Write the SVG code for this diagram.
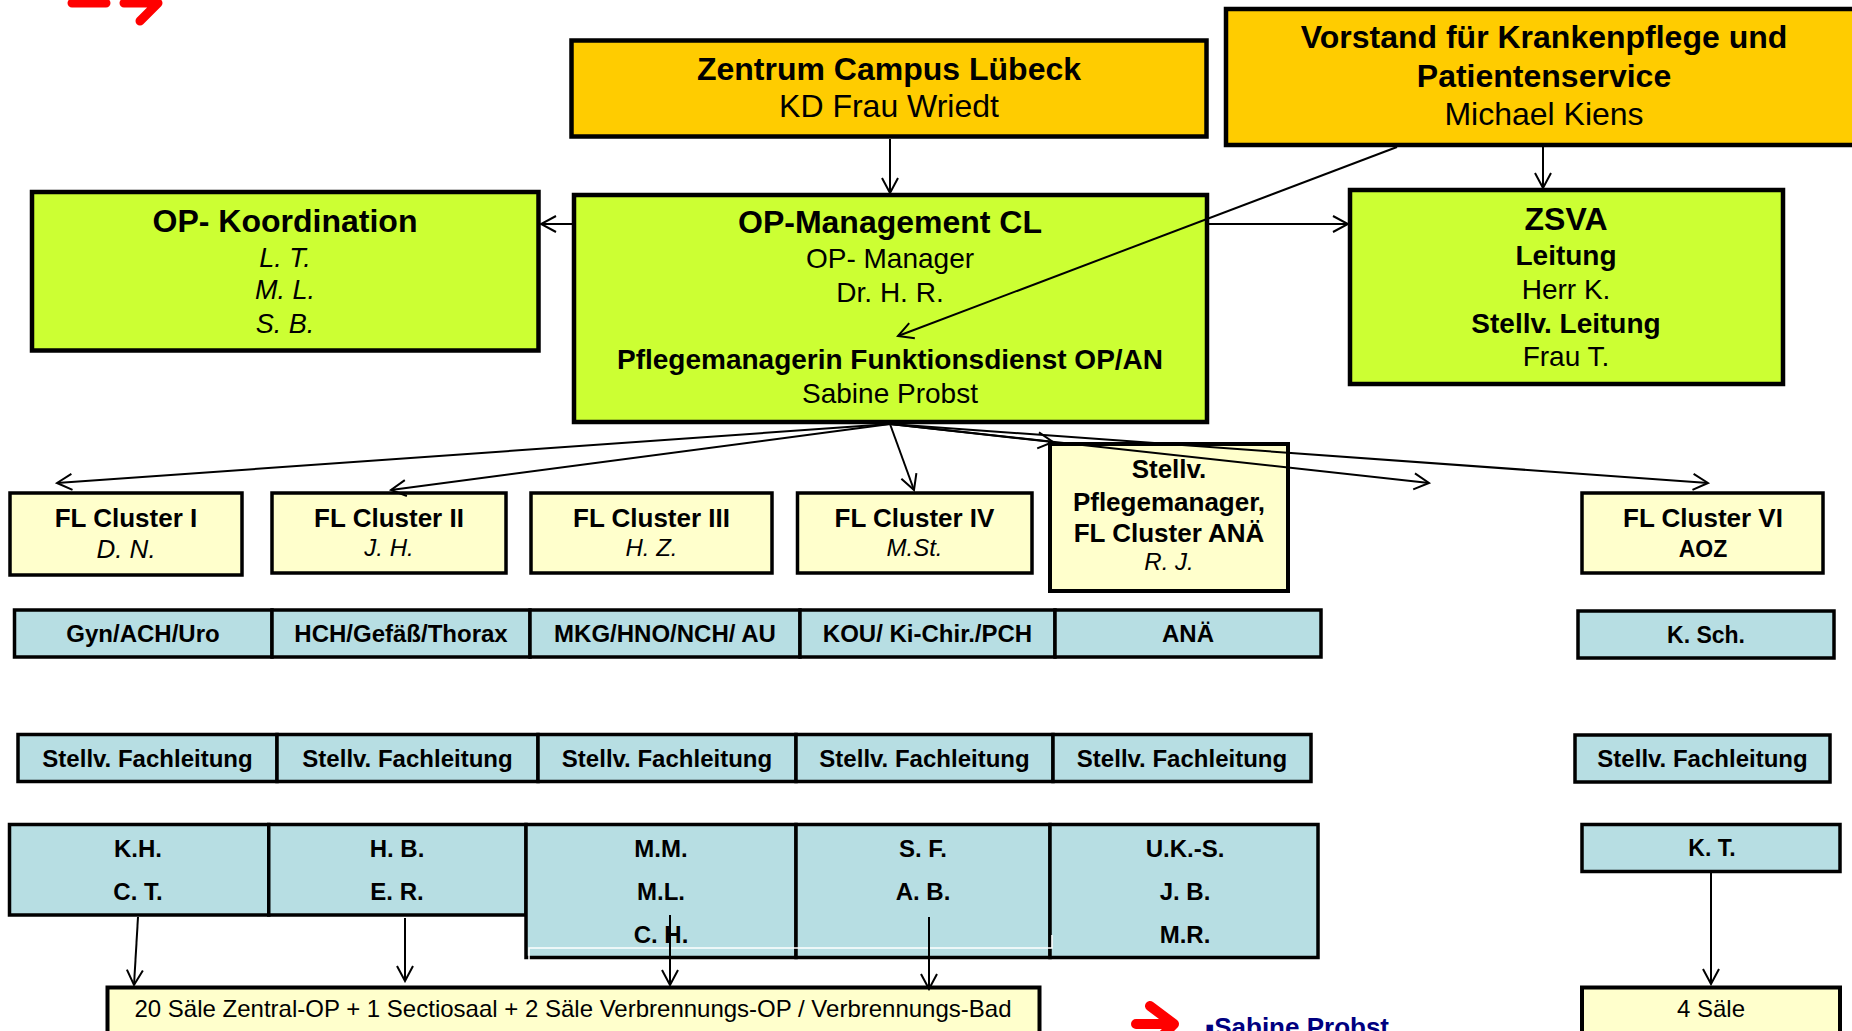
<svg xmlns="http://www.w3.org/2000/svg" width="1852" height="1031" viewBox="0 0 1852 1031">
<defs>
<style>
text{font-family:"Liberation Sans",Arial,sans-serif;text-anchor:middle;fill:#000}
.b{font-weight:bold}
.i{font-style:italic}
.t32{font-size:32px}
.t28{font-size:28px}
.t27{font-size:27px}
.t26{font-size:26px}
.t24{font-size:24px}
.t23{font-size:23px}
.orange{fill:#FFCC00;stroke:#000;stroke-width:4.5}
.green{fill:#CCFF33;stroke:#000;stroke-width:4.5}
.yellow{fill:#FFFFCC;stroke:#000;stroke-width:3.5}
.blue{fill:#B7DEE3;stroke:#000;stroke-width:3.5}
.con{fill:none;stroke:#000;stroke-width:2}
.red{fill:none;stroke:#FF0000;stroke-width:9;stroke-linecap:round;stroke-linejoin:round}
</style>
<marker id="arr" viewBox="-17 -10 19 20" refX="0" refY="0" markerWidth="19" markerHeight="20" markerUnits="userSpaceOnUse" orient="auto">
<path d="M-15,-8 L0,0 L-15,8" fill="none" stroke="#000" stroke-width="2"/>
</marker>
</defs>
<rect width="1852" height="1031" fill="#FFFFFF"/>

<g id="deco-top-arrow">
<path class="red" d="M72,3 H106 M124,3 L158,3 L140,21"/>
</g>

<g id="zentrum">
<rect class="orange" x="571.5" y="40.5" width="635" height="96"/>
<text class="b t32" x="889" y="80">Zentrum Campus Lübeck</text>
<text class="t32" x="889" y="117">KD Frau Wriedt</text>
</g>

<g id="vorstand">
<rect class="orange" x="1226" y="9" width="640" height="136"/>
<text class="b t32" x="1544" y="48">Vorstand für Krankenpflege und</text>
<text class="b t32" x="1544" y="87">Patientenservice</text>
<text class="t32" x="1544" y="125">Michael Kiens</text>
</g>

<g id="op-management">
<rect class="green" x="574" y="195" width="633" height="227"/>
<text class="b t32" x="890" y="233">OP-Management CL</text>
<text class="t28" x="890" y="268">OP- Manager</text>
<text class="t28" x="890" y="302">Dr. H. R.</text>
<text class="b t28" x="890" y="369">Pflegemanagerin Funktionsdienst OP/AN</text>
<text class="t28" x="890" y="403">Sabine Probst</text>
</g>

<g id="op-koordination">
<rect class="green" x="32" y="192" width="506.5" height="158.5"/>
<text class="b t32" x="285" y="232">OP- Koordination</text>
<text class="i t27" x="285" y="267">L. T.</text>
<text class="i t27" x="285" y="299">M. L.</text>
<text class="i t27" x="285" y="333">S. B.</text>
</g>

<g id="zsva">
<rect class="green" x="1350" y="190" width="433" height="194"/>
<text class="b t32" x="1566" y="230">ZSVA</text>
<text class="b t28" x="1566" y="265">Leitung</text>
<text class="t28" x="1566" y="299">Herr K.</text>
<text class="b t28" x="1566" y="333">Stellv. Leitung</text>
<text class="t28" x="1566" y="366">Frau T.</text>
</g>

<g id="fl-cluster-1">
<rect class="yellow" x="10" y="493" width="232" height="82"/>
<text class="b t26" x="126" y="527">FL Cluster I</text>
<text class="i t26" x="126" y="558">D. N.</text>
</g>
<g id="fl-cluster-2">
<rect class="yellow" x="272" y="493" width="234" height="80"/>
<text class="b t26" x="389" y="527">FL Cluster II</text>
<text class="i t24" x="389" y="556">J. H.</text>
</g>
<g id="fl-cluster-3">
<rect class="yellow" x="531" y="493" width="241" height="80"/>
<text class="b t26" x="651.5" y="527">FL Cluster III</text>
<text class="i t24" x="651.5" y="556">H. Z.</text>
</g>
<g id="fl-cluster-4">
<rect class="yellow" x="797.5" y="493" width="234.5" height="80"/>
<text class="b t26" x="914.5" y="527">FL Cluster IV</text>
<text class="i t24" x="914.5" y="556">M.St.</text>
</g>
<g id="stellv-pflegemanager">
<rect class="yellow" x="1050" y="444" width="238" height="147" style="stroke-width:4"/>
<text class="b t26" x="1169" y="478">Stellv.</text>
<text class="b t26" x="1169" y="511">Pflegemanager,</text>
<text class="b t26" x="1169" y="542">FL Cluster ANÄ</text>
<text class="i t24" x="1169" y="570">R. J.</text>
</g>
<g id="fl-cluster-6">
<rect class="yellow" x="1582" y="493" width="241" height="80"/>
<text class="b t26" x="1703" y="527">FL Cluster VI</text>
<text class="b t23" x="1703" y="557">AOZ</text>
</g>

<g id="dept-gyn"><rect class="blue" x="14.5" y="610" width="257.5" height="47"/><text class="b t24" x="143" y="642">Gyn/ACH/Uro</text></g>
<g id="dept-hch"><rect class="blue" x="272" y="610" width="258" height="47"/><text class="b t24" x="401" y="642">HCH/Gefäß/Thorax</text></g>
<g id="dept-mkg"><rect class="blue" x="530" y="610" width="270" height="47"/><text class="b t24" x="665" y="642">MKG/HNO/NCH/ AU</text></g>
<g id="dept-kou"><rect class="blue" x="800" y="610" width="255" height="47"/><text class="b t24" x="927.5" y="642">KOU/ Ki-Chir./PCH</text></g>
<g id="dept-ana"><rect class="blue" x="1055" y="610" width="266" height="47"/><text class="b t24" x="1188" y="642">ANÄ</text></g>
<g id="dept-ksch"><rect class="blue" x="1578" y="611" width="256" height="47"/><text class="b t23" x="1706" y="643">K. Sch.</text></g>

<g id="stellv-1"><rect class="blue" x="18" y="734.5" width="259" height="47"/><text class="b t24" x="147.5" y="767">Stellv. Fachleitung</text></g>
<g id="stellv-2"><rect class="blue" x="277" y="734.5" width="261" height="47"/><text class="b t24" x="407.5" y="767">Stellv. Fachleitung</text></g>
<g id="stellv-3"><rect class="blue" x="538" y="734.5" width="258" height="47"/><text class="b t24" x="667" y="767">Stellv. Fachleitung</text></g>
<g id="stellv-4"><rect class="blue" x="796" y="734.5" width="257" height="47"/><text class="b t24" x="924.5" y="767">Stellv. Fachleitung</text></g>
<g id="stellv-5"><rect class="blue" x="1053" y="734.5" width="258" height="47"/><text class="b t24" x="1182" y="767">Stellv. Fachleitung</text></g>
<g id="stellv-6"><rect class="blue" x="1575" y="735" width="255" height="47"/><text class="b t24" x="1702.5" y="767">Stellv. Fachleitung</text></g>

<g id="names-1"><rect class="blue" x="9.5" y="824.5" width="259.25" height="90.5"/><text class="b t24" x="138" y="857">K.H.</text><text class="b t24" x="138" y="900">C. T.</text></g>
<g id="names-2"><rect class="blue" x="268.75" y="824.5" width="257.25" height="90.5"/><text class="b t24" x="397" y="857">H. B.</text><text class="b t24" x="397" y="900">E. R.</text></g>
<g id="names-3"><rect class="blue" x="526" y="824.5" width="270" height="133"/><text class="b t24" x="661" y="857">M.M.</text><text class="b t24" x="661" y="900">M.L.</text><text class="b t24" x="661" y="943">C. H.</text></g>
<g id="names-4"><rect class="blue" x="796" y="824.5" width="254" height="133"/><text class="b t24" x="923" y="857">S. F.</text><text class="b t24" x="923" y="900">A. B.</text></g>
<g id="names-5"><rect class="blue" x="1050" y="824.5" width="268" height="133"/><text class="b t24" x="1185" y="857">U.K.-S.</text><text class="b t24" x="1185" y="900">J. B.</text><text class="b t24" x="1185" y="943">M.R.</text></g>
<g id="names-6"><rect class="blue" x="1582" y="824.5" width="258" height="47"/><text class="b t23" x="1712" y="856">K. T.</text></g>
<path d="M529,960 V948 H1052 V935" fill="none" stroke="#FFFFFF" stroke-width="1.5"/>

<g id="saele-zentral">
<rect class="yellow" x="107.5" y="987.5" width="932" height="60" style="stroke-width:4"/>
<text class="t24" x="573" y="1017">20 Säle Zentral-OP + 1 Sectiosaal + 2 Säle Verbrennungs-OP / Verbrennungs-Bad</text>
</g>
<g id="saele-aoz">
<rect class="yellow" x="1582" y="987.5" width="258" height="60" style="stroke-width:4"/>
<text class="t24" x="1711" y="1017">4 Säle</text>
</g>

<g id="legend">
<path class="red" style="stroke-width:10" d="M1136,1024 H1174 M1150,1006 L1174,1024 L1156,1042"/>
<text x="1205" y="1036" style="text-anchor:start;font-weight:bold;font-size:26px;fill:#000080">▪Sabine Probst</text>
</g>

<g id="connectors">
<line class="con" x1="890" y1="139" x2="890" y2="193" marker-end="url(#arr)"/>
<line class="con" x1="1543" y1="147" x2="1543" y2="188" marker-end="url(#arr)"/>
<line class="con" x1="574" y1="224" x2="541" y2="224" marker-end="url(#arr)"/>
<line class="con" x1="1209" y1="224" x2="1348" y2="224" marker-end="url(#arr)"/>
<line class="con" x1="1397" y1="147" x2="898" y2="336" marker-end="url(#arr)"/>
<line class="con" x1="890" y1="424" x2="57" y2="483" marker-end="url(#arr)"/>
<line class="con" x1="890" y1="424" x2="391" y2="490" marker-end="url(#arr)"/>
<line class="con" x1="890" y1="424" x2="914" y2="490" marker-end="url(#arr)"/>
<line class="con" x1="890" y1="424" x2="1053" y2="442" marker-end="url(#arr)"/>
<line class="con" x1="890" y1="424" x2="1429" y2="483" marker-end="url(#arr)"/>
<line class="con" x1="890" y1="424" x2="1708" y2="483" marker-end="url(#arr)"/>
<line class="con" x1="138" y1="917" x2="134" y2="985" marker-end="url(#arr)"/>
<line class="con" x1="405" y1="918" x2="405" y2="981" marker-end="url(#arr)"/>
<line class="con" x1="670" y1="915" x2="670" y2="985" marker-end="url(#arr)"/>
<line class="con" x1="929" y1="917" x2="929" y2="989" marker-end="url(#arr)"/>
<line class="con" x1="1711" y1="873" x2="1711" y2="984" marker-end="url(#arr)"/>
</g>
</svg>
